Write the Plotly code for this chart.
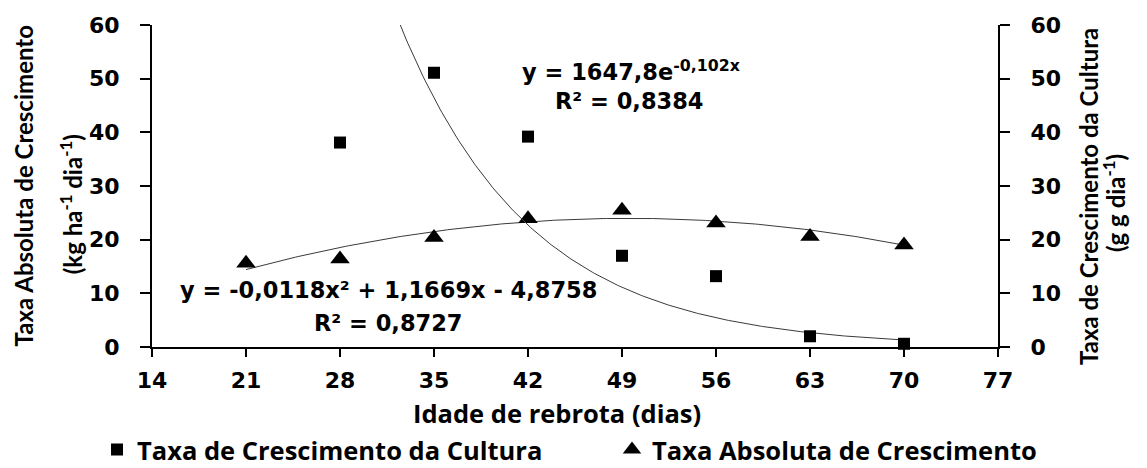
import numpy as np
import plotly.graph_objects as go

# ---- data ----
tac_x = [21, 28, 35, 42, 49, 56, 63, 70]          # Taxa Absoluta de Crescimento
tac_y = [15.6, 16.4, 20.4, 23.9, 25.5, 23.1, 20.6, 19.0]
tcc_x = [28, 35, 42, 49, 56, 63, 70]              # Taxa de Crescimento da Cultura
tcc_y = [38.1, 51.1, 39.2, 17.0, 13.2, 2.0, 0.6]

# trendline coefficients (as printed on the chart)
quad_a, quad_b, quad_c = -0.0118, 1.1669, -4.8758
exp_a, exp_k = 1647.8, -0.102

x_ticks = [14, 21, 28, 35, 42, 49, 56, 63, 70, 77]
y_ticks = [0, 10, 20, 30, 40, 50, 60]

# trend curves computed from the printed equations
xq = np.linspace(min(tac_x), max(tac_x), 200)
yq = quad_a * xq**2 + quad_b * xq + quad_c
xe = np.linspace(min(tcc_x), max(tcc_x), 300)
ye = exp_a * np.exp(exp_k * xe)

TICK_FONT = dict(family="DejaVu Sans", size=22, color="black", weight="bold")
EQ_FONT = dict(family="DejaVu Sans", size=22.5, color="black", weight="bold")
LEG_FONT = dict(family="Open Sans", size=25.5, color="black", weight="bold")
XT_FONT = dict(family="Open Sans", size=25.5, color="black", weight="bold")
VT_FONT = dict(family="Lato", size=24, color="black", weight="bold")

fig = go.Figure()

fig.add_trace(go.Scatter(x=xq, y=yq, mode="lines", line=dict(color="#3a3a3a", width=1),
                         showlegend=False, hoverinfo="skip"))
fig.add_trace(go.Scatter(x=xe, y=ye, mode="lines", line=dict(color="#3a3a3a", width=1),
                         showlegend=False, hoverinfo="skip", yaxis="y2"))

fig.add_trace(go.Scatter(x=tac_x, y=tac_y, mode="markers", name="Taxa Absoluta de Crescimento",
                         marker=dict(symbol="triangle-up", size=17, color="black"),
                         showlegend=False, cliponaxis=False))
fig.add_trace(go.Scatter(x=tcc_x, y=tcc_y, mode="markers", name="Taxa de Crescimento da Cultura",
                         marker=dict(symbol="square", size=12, color="black"),
                         showlegend=False, cliponaxis=False, yaxis="y2"))

# legend entries
fig.add_trace(go.Scatter(x=[None], y=[None], mode="markers", name="Taxa de Crescimento da Cultura",
                         marker=dict(symbol="square", size=12, color="black"), legendwidth=470))
fig.add_trace(go.Scatter(x=[None], y=[None], mode="markers", name="Taxa Absoluta de Crescimento",
                         marker=dict(symbol="triangle-up", size=16, color="black"), legendwidth=405))

axis_common = dict(showgrid=False, zeroline=False, showline=True, linecolor="black", linewidth=2,
                   ticks="outside", tickcolor="black", tickwidth=2, tickfont=TICK_FONT)

fig.update_layout(
    width=1147, height=468,
    margin=dict(l=152, r=149, t=25, b=121, autoexpand=False),
    paper_bgcolor="white", plot_bgcolor="white",
    xaxis=dict(range=[14, 77], tickvals=x_ticks, ticklen=8, ticklabelstandoff=5, **axis_common),
    yaxis=dict(range=[0, 60], tickvals=y_ticks, ticklen=10, ticklabelstandoff=16, **axis_common),
    yaxis2=dict(range=[0, 60], tickvals=y_ticks, ticklen=10, ticklabelstandoff=16,
                overlaying="y", side="right", **axis_common),
    legend=dict(orientation="h", x=-0.065, xanchor="left", y=-0.32, yanchor="middle",
                font=LEG_FONT, itemwidth=30, bgcolor="rgba(0,0,0,0)"),
    showlegend=True,
)

ann = [
    dict(text="y = 1647,8e<sup>-0,102x</sup>", x=0.566, y=0.86, font=EQ_FONT),
    dict(text="R² = 0,8384", x=0.564, y=0.764, font=EQ_FONT),
    dict(text="y = -0,0118x² + 1,1669x - 4,8758", x=0.279, y=0.177, font=EQ_FONT),
    dict(text="R² = 0,8727", x=0.279, y=0.0745, font=EQ_FONT),
    dict(text="Idade de rebrota (dias)", x=0.479, y=-0.205, font=XT_FONT),
    dict(text="Taxa Absoluta de Crescimento", x=-0.152, y=0.5, textangle=-90, font=VT_FONT),
    dict(text="(kg ha<sup>-1</sup> dia<sup>-1</sup>)", x=-0.0955, y=0.444, textangle=-90, font=VT_FONT),
    dict(text="Taxa de Crescimento da Cultura", x=1.1076, y=0.466, textangle=-90, font=VT_FONT),
    dict(text="(g g dia<sup>-1</sup>)", x=1.137, y=0.447, textangle=-90, font=VT_FONT),
]
for a in ann:
    fig.add_annotation(xref="paper", yref="paper", showarrow=False,
                       xanchor="center", yanchor="middle", **a)

fig.write_html("out.html")
